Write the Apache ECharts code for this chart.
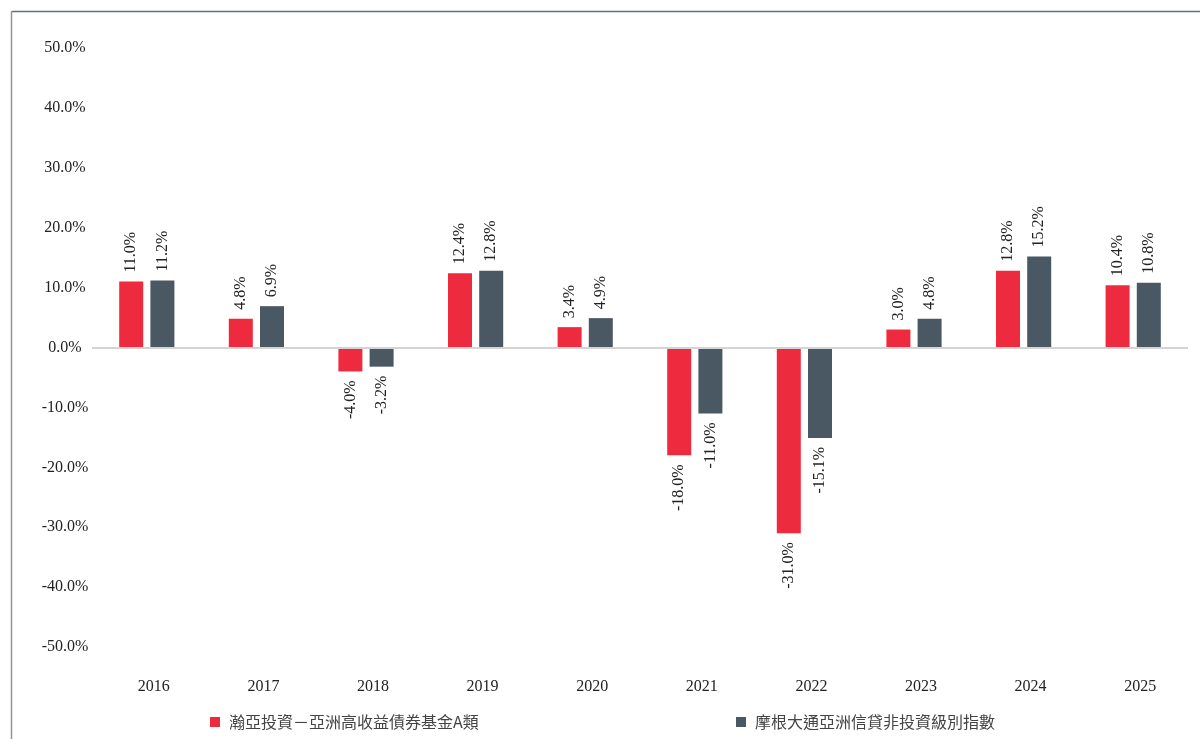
<!DOCTYPE html>
<html>
<head>
<meta charset="utf-8">
<title>chart</title>
<script src="https://cdn.jsdelivr.net/npm/echarts@6/dist/echarts.min.js"></script>
<style>
  html, body { margin: 0; padding: 0; background: #fff; }
  #main { width: 1200px; height: 739px; }
</style>
</head>
<body>
<div id="main"></div>
<script>
// 年份
var years = ["2016", "2017", "2018", "2019", "2020", "2021", "2022", "2023", "2024", "2025"];
var fundName = "瀚亞投資－亞洲高收益債券基金A類";
var indexName = "摩根大通亞洲信貸非投資級別指數";
// 年度回報 (%)
var fundValues = [11.0, 4.8, -4.0, 12.4, 3.4, -18.0, -31.0, 3.0, 12.8, 10.4];
var indexValues = [11.2, 6.9, -3.2, 12.8, 4.9, -11.0, -15.1, 4.8, 15.2, 10.8];

var serifFont = "'Liberation Serif', 'DejaVu Serif', serif";
var cjkFont = "'Noto Sans CJK TC', 'Noto Sans CJK SC', sans-serif";

var page = {
  init: function () {
    var myChart = echarts.init(document.getElementById("main"));
    myChart.setOption(page.getOption());
  },
  // 正数标签在柱顶, 负数标签在柱底
  buildData: function (values) {
    var arr = [];
    for (let i = 0; i < values.length; i++) {
      arr.push({
        value: values[i],
        label: {
          align: values[i] < 0 ? "right" : "left"
        }
      });
    }
    return arr;
  },
  legendItem: function (name, left) {
    return {
      data: [name],
      left: left,
      top: 709,
      icon: "rect",
      itemWidth: 10,
      itemHeight: 10,
      textStyle: {
        color: "#444",
        fontFamily: cjkFont,
        fontSize: 16,
        padding: [0, 0, 0, 4]
      }
    };
  },
  getOption: function () {
    var barLabel = {
      show: true,
      position: "outside",
      rotate: 90,
      distance: 9,
      verticalAlign: "middle",
      color: "#222",
      fontFamily: serifFont,
      fontSize: 16,
      formatter: function (p) {
        return p.value.toFixed(1) + "%";
      }
    };
    return {
      animation: false,
      backgroundColor: "#fff",
      graphic: [{
        type: "line",
        shape: { x1: 11.5, y1: 11.5, x2: 1200, y2: 11.5 },
        style: { stroke: "#65707c", lineWidth: 1.5 }
      }, {
        type: "line",
        shape: { x1: 11.5, y1: 11.5, x2: 11.5, y2: 739 },
        style: { stroke: "#8e96a0", lineWidth: 1.5 }
      }],
      legend: [
        page.legendItem(fundName, 205),
        page.legendItem(indexName, 731)
      ],
      grid: {
        left: 92,
        right: 12,
        top: 48,
        bottom: 92
      },
      xAxis: {
        type: "category",
        data: years,
        axisLine: { show: false, onZero: false },
        axisTick: { show: false },
        axisLabel: {
          margin: 32,
          color: "#222",
          fontFamily: serifFont,
          fontSize: 16,
          padding: [0, 0, 0, 14]
        }
      },
      yAxis: {
        type: "value",
        min: -50,
        max: 50,
        interval: 10,
        axisLine: { show: false },
        axisTick: { show: false },
        splitLine: { show: false },
        axisLabel: {
          align: "center",
          margin: 27,
          color: "#222",
          fontFamily: serifFont,
          fontSize: 16,
          formatter: function (v) {
            return v.toFixed(1) + "%";
          }
        }
      },
      series: [{
        name: fundName,
        type: "bar",
        barWidth: 24,
        barGap: "30%",
        itemStyle: { color: "#ee2a3f" },
        label: barLabel,
        data: page.buildData(fundValues),
        markLine: {
          silent: true,
          symbol: "none",
          label: { show: false },
          lineStyle: { color: "#d4d4d4", width: 2, type: "solid" },
          data: [{ yAxis: 0 }]
        },
        z: 3
      }, {
        name: indexName,
        type: "bar",
        barWidth: 24,
        itemStyle: { color: "#4a5864" },
        label: barLabel,
        data: page.buildData(indexValues),
        z: 3
      }]
    };
  }
};
page.init();
</script>
</body>
</html>
